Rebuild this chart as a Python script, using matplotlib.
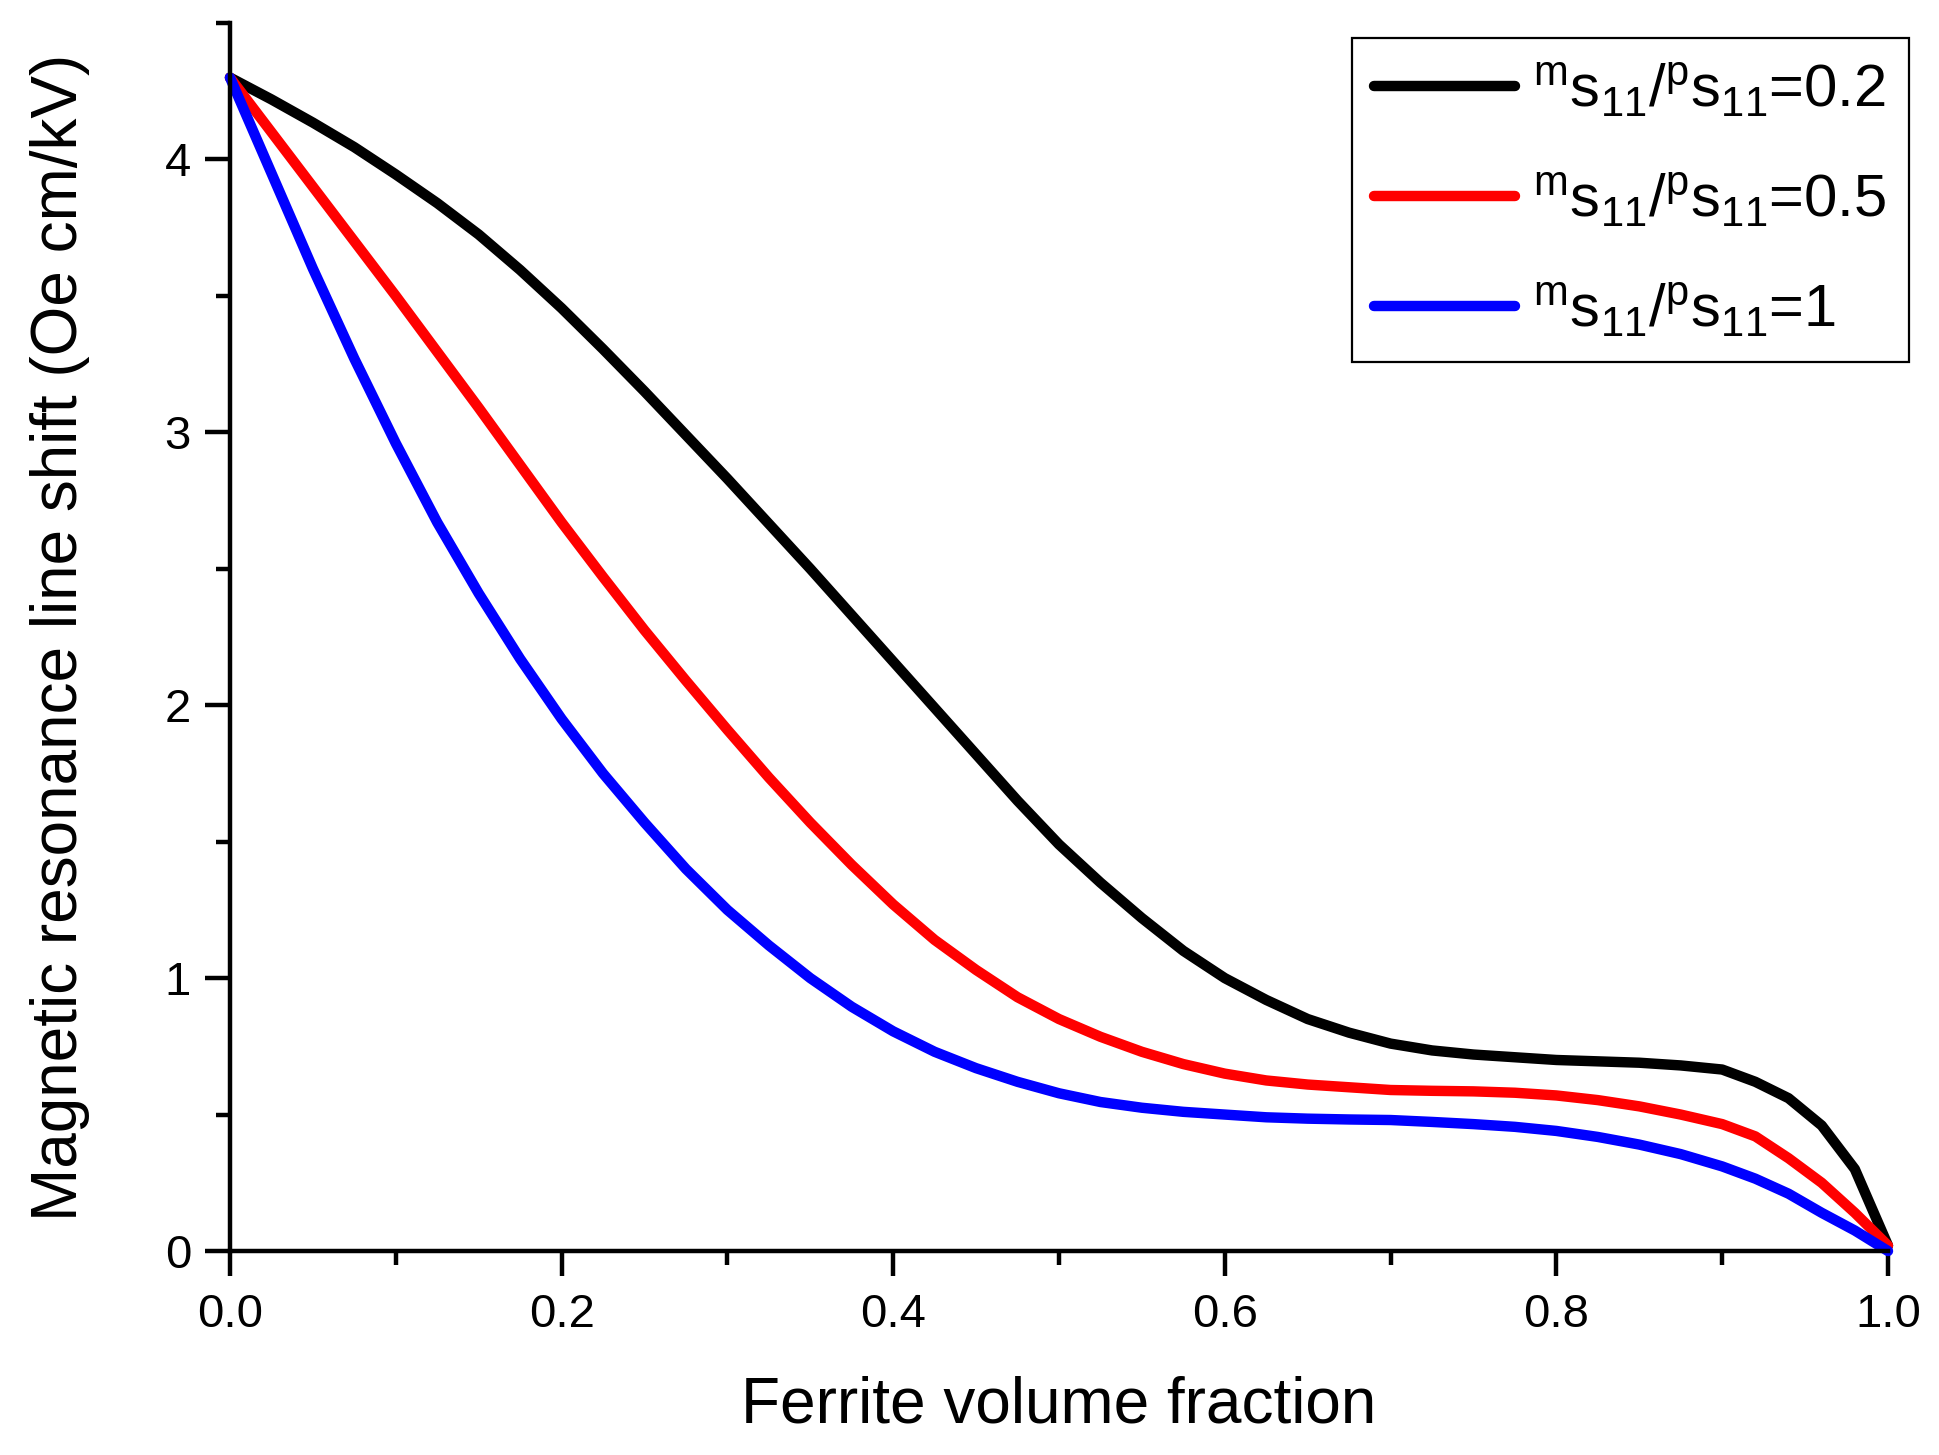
import matplotlib
matplotlib.use("Agg")
import matplotlib.pyplot as plt
from matplotlib.ticker import MultipleLocator, FormatStrFormatter

plt.rcParams['font.family'] = ['Liberation Sans', 'DejaVu Sans']
plt.rcParams['mathtext.fontset'] = 'custom'
plt.rcParams['mathtext.rm'] = 'Liberation Sans'
plt.rcParams['mathtext.it'] = 'Liberation Sans'

# ---- data ----
x = [0.0, 0.025, 0.05, 0.075, 0.1, 0.125, 0.15, 0.175, 0.2, 0.225, 0.25,
     0.275, 0.3, 0.325, 0.35, 0.375, 0.4, 0.425, 0.45, 0.475, 0.5, 0.525,
     0.55, 0.575, 0.6, 0.625, 0.65, 0.675, 0.7, 0.725, 0.75, 0.775, 0.8,
     0.825, 0.85, 0.875, 0.9, 0.92, 0.94, 0.96, 0.98, 1.0]

ratio_02 = [4.30, 4.22, 4.135, 4.045, 3.945, 3.84, 3.725, 3.595, 3.455, 3.305,
            3.15, 2.99, 2.83, 2.665, 2.50, 2.33, 2.16, 1.99, 1.82, 1.65, 1.49,
            1.35, 1.22, 1.10, 1.00, 0.92, 0.85, 0.80, 0.76, 0.735, 0.72, 0.71,
            0.70, 0.695, 0.69, 0.68, 0.665, 0.62, 0.56, 0.46, 0.30, 0.02]
ratio_05 = [4.30, 4.10, 3.90, 3.70, 3.50, 3.295, 3.09, 2.88, 2.67, 2.47, 2.275,
            2.09, 1.91, 1.735, 1.57, 1.415, 1.27, 1.14, 1.03, 0.93, 0.85,
            0.785, 0.73, 0.685, 0.65, 0.625, 0.61, 0.60, 0.59, 0.587, 0.585,
            0.58, 0.57, 0.553, 0.53, 0.50, 0.465, 0.42, 0.34, 0.25, 0.14, 0.02]
ratio_1 = [4.30, 3.95, 3.60, 3.27, 2.96, 2.67, 2.41, 2.17, 1.95, 1.75, 1.57,
           1.40, 1.25, 1.12, 1.00, 0.895, 0.805, 0.73, 0.67, 0.62, 0.578,
           0.546, 0.525, 0.51, 0.50, 0.49, 0.485, 0.482, 0.48, 0.473, 0.465,
           0.455, 0.44, 0.418, 0.39, 0.355, 0.31, 0.265, 0.21, 0.14, 0.075,
           0.0]

labels = [r'$^{\mathrm{m}}$s$_{11}$/$^{\mathrm{p}}$s$_{11}$=0.2',
          r'$^{\mathrm{m}}$s$_{11}$/$^{\mathrm{p}}$s$_{11}$=0.5',
          r'$^{\mathrm{m}}$s$_{11}$/$^{\mathrm{p}}$s$_{11}$=1']
colors = ['black', 'red', 'blue']

fig = plt.figure(figsize=(19.39, 14.55), dpi=100)
ax = fig.add_axes([0.1186, 0.1402, 0.8551, 0.8440])

for ys, lab, c in zip([ratio_02, ratio_05, ratio_1], labels, colors):
    ax.plot(x, ys, color=c, linewidth=7.5, label=lab, solid_capstyle='round',
            solid_joinstyle='round', clip_on=False)

ax.set_xlim(0, 1.0)
ax.set_ylim(0, 4.5)
ax.xaxis.set_major_locator(MultipleLocator(0.2))
ax.xaxis.set_minor_locator(MultipleLocator(0.1))
ax.xaxis.set_major_formatter(FormatStrFormatter('%.1f'))
ax.yaxis.set_major_locator(MultipleLocator(1))
ax.yaxis.set_minor_locator(MultipleLocator(0.5))

for side in ['top', 'right']:
    ax.spines[side].set_visible(False)
for side in ['left', 'bottom']:
    ax.spines[side].set_linewidth(3.2)

ax.tick_params(which='major', direction='out', length=18, width=3.2,
               labelsize=34, pad=10)
ax.tick_params(which='minor', direction='out', length=10, width=3.2)
ax.tick_params(axis='x', which='major', pad=12)

ax.set_xlabel('Ferrite volume fraction', fontsize=46, labelpad=28)
ax.set_ylabel('Magnetic resonance line shift (Oe cm/kV)', fontsize=46,
              labelpad=54)

leg = ax.legend(loc='upper right', bbox_to_anchor=(1.0125, 0.988),
                fontsize=43, frameon=True, fancybox=False, framealpha=1,
                edgecolor='black', handlelength=2.35, handletextpad=0.3,
                borderpad=0.38, labelspacing=0.86, borderaxespad=0)
leg.get_frame().set_linewidth(1.6)

fig.savefig('out.png', dpi=100)
